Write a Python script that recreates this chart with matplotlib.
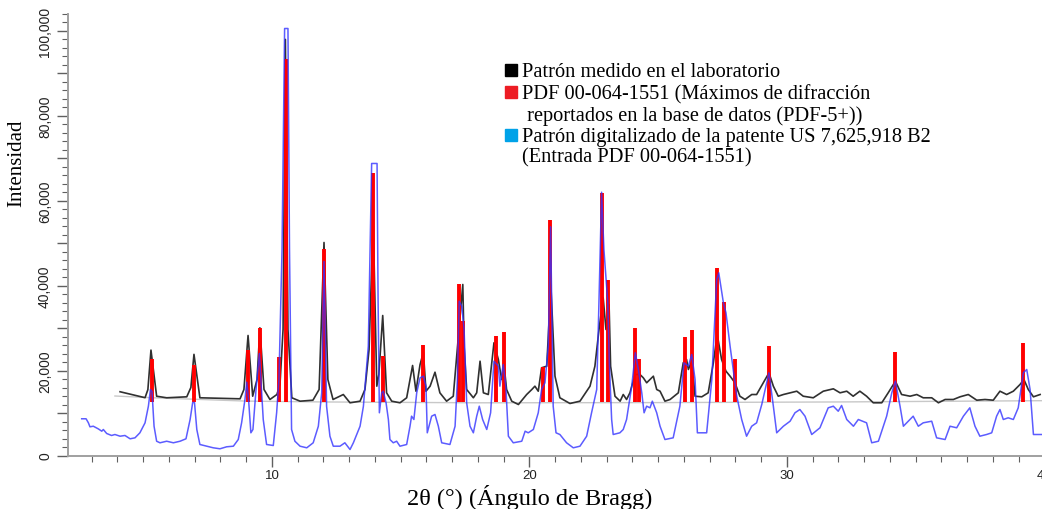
import matplotlib
matplotlib.use("Agg")
import matplotlib.pyplot as plt
from matplotlib.patches import Rectangle
from matplotlib.ticker import MultipleLocator, FuncFormatter

# Measured pattern (black)
black_x = [4.10, 5.07, 5.18, 5.30, 5.52, 5.91, 6.69, 6.85, 6.97, 7.20,
           8.76, 8.91, 9.07, 9.25, 9.42, 9.53, 9.69, 9.92, 10.19, 10.31,
           10.43, 10.52, 10.62, 10.77, 11.09, 11.59, 11.83, 12.02, 12.17, 12.37,
           12.77, 13.03, 13.42, 13.61, 13.77, 13.93, 14.07, 14.15, 14.30, 14.45,
           14.65, 14.97, 15.23, 15.46, 15.59, 15.75, 15.88, 15.98, 16.14, 16.33,
           16.52, 16.78, 17.04, 17.26, 17.41, 17.46, 17.56, 17.82, 17.95, 18.08,
           18.21, 18.40, 18.62, 18.79, 18.92, 19.01, 19.11, 19.31, 19.57, 19.89,
           20.09, 20.21, 20.34, 20.47, 20.67, 20.83, 20.99, 21.18, 21.57, 21.96,
           22.35, 22.54, 22.70, 22.86, 22.97, 23.09, 23.15, 23.32, 23.52, 23.64,
           23.77, 23.90, 24.10, 24.29, 24.42, 24.55, 24.68, 24.81, 24.94, 25.07,
           25.26, 25.46, 25.78, 25.97, 26.10, 26.17, 26.30, 26.43, 26.69, 26.94,
           27.14, 27.29, 27.46, 27.63, 27.79, 27.98, 28.17, 28.37, 28.63, 28.82,
           29.08, 29.30, 29.47, 29.66, 29.86, 30.12, 30.38, 30.63, 31.02, 31.41,
           31.80, 32.06, 32.32, 32.57, 32.83, 33.09, 33.35, 33.68, 33.93, 34.21,
           34.45, 34.78, 35.04, 35.29, 35.62, 35.88, 36.14, 36.46, 36.72, 37.04,
           37.37, 37.69, 38.01, 38.27, 38.53, 38.79, 39.05, 39.20, 39.37, 39.57,
           39.83]
black_y = [15000, 13600, 15500, 24800, 13950, 13580, 13810, 16000, 23800, 13580,
           13340, 15530, 28240, 13950, 17900, 30050, 15530, 13180, 14350, 16700,
           29650, 97900, 29650, 13580, 12780, 13010, 15530, 50120, 17880, 13180,
           14350, 12400, 12780, 15530, 24940, 55530, 16310, 19060, 32940, 14750,
           12780, 12400, 13580, 21180, 15130, 21410, 24310, 15130, 16310, 19600,
           14750, 12780, 13950, 29650, 40240, 25720, 15530, 13580, 14750, 22190,
           14750, 14350, 26520, 22590, 17880, 21410, 15530, 12780, 12000, 14350,
           15530, 16310, 15130, 20640, 21010, 40070, 18660, 13580, 12240, 12780,
           16310, 21010, 29650, 37180, 29650, 35530, 21010, 13950, 12780, 14350,
           13180, 14750, 19060, 19060, 18280, 17110, 17880, 18660, 15530, 15130,
           12780, 13180, 14750, 21810, 22590, 20240, 22190, 13950, 13810, 14750,
           21810, 28470, 22590, 19840, 18660, 17110, 13950, 13180, 14350, 14350,
           17110, 19460, 16310, 13950, 14350, 14750, 15130, 13950, 13580, 15130,
           15690, 14750, 15130, 13950, 15130, 13950, 12400, 12400, 14750, 17480,
           14350, 13950, 14350, 13580, 13580, 12400, 13180, 13180, 13810, 14350,
           13010, 13180, 13010, 15130, 14350, 15130, 16710, 17880, 15530, 13810,
           14350]

# Background of the measured pattern (light grey)
bg_x = [3.9, 5.3, 9.0, 12.0, 18.0, 25.0, 32.0, 40.0]
bg_y = [14000, 13600, 12800, 12600, 12400, 12450, 12600, 12900]

# Digitised patent pattern (blue)
blue_x = [2.61, 2.78, 2.87, 2.93, 3.06, 3.25, 3.39, 3.45, 3.58, 3.77,
          3.90, 4.10, 4.29, 4.49, 4.68, 4.87, 5.07, 5.20, 5.28, 5.34,
          5.42, 5.52, 5.65, 5.91, 6.17, 6.43, 6.66, 6.82, 6.92, 6.99,
          7.08, 7.20, 7.46, 7.72, 7.98, 8.24, 8.50, 8.69, 8.82, 8.95,
          9.02, 9.09, 9.18, 9.26, 9.38, 9.51, 9.57, 9.66, 9.79, 10.05,
          10.18, 10.27, 10.39, 10.49, 10.62, 10.68, 10.76, 10.89, 11.09, 11.35,
          11.60, 11.80, 11.93, 12.02, 12.12, 12.25, 12.38, 12.64, 12.83, 13.03,
          13.16, 13.42, 13.55, 13.74, 13.87, 14.08, 14.12, 14.17, 14.26, 14.32,
          14.43, 14.52, 14.58, 14.71, 14.84, 14.97, 15.23, 15.36, 15.42, 15.51,
          15.62, 15.75, 15.88, 15.98, 16.03, 16.20, 16.33, 16.46, 16.59, 16.91,
          17.11, 17.20, 17.27, 17.37, 17.46, 17.56, 17.69, 17.82, 17.95, 18.05,
          18.18, 18.34, 18.49, 18.62, 18.79, 18.85, 18.98, 19.08, 19.18, 19.37,
          19.70, 19.83, 19.95, 20.15, 20.34, 20.47, 20.60, 20.73, 20.82, 20.92,
          21.03, 21.18, 21.44, 21.70, 21.96, 22.22, 22.41, 22.61, 22.70, 22.80,
          22.89, 23.04, 23.10, 23.19, 23.25, 23.51, 23.64, 23.77, 23.97, 24.11,
          24.23, 24.36, 24.45, 24.55, 24.68, 24.77, 24.94, 25.07, 25.26, 25.58,
          25.84, 26.00, 26.17, 26.30, 26.43, 26.52, 26.88, 27.08, 27.27, 27.35,
          27.53, 27.63, 27.79, 28.05, 28.24, 28.43, 28.63, 28.82, 29.02, 29.30,
          29.47, 29.60, 29.86, 30.12, 30.31, 30.50, 30.70, 30.96, 31.28, 31.60,
          31.80, 31.99, 32.12, 32.32, 32.58, 32.77, 33.09, 33.29, 33.55, 33.87,
          34.07, 34.21, 34.39, 34.52, 34.71, 34.90, 35.10, 35.29, 35.62, 35.81,
          36.14, 36.33, 36.59, 36.85, 37.10, 37.30, 37.49, 37.75, 37.95, 38.14,
          38.27, 38.40, 38.59, 38.79, 38.98, 39.18, 39.31, 39.44, 39.57, 39.90]
blue_y = [8640, 8640, 7690, 6750, 6890, 6280, 5720, 6120, 5180, 4710,
          4940, 4540, 4710, 3930, 4160, 5340, 7690, 11600, 15530, 15060,
          6890, 3360, 2990, 3360, 2990, 3360, 3930, 8470, 12470, 12470,
          6120, 2590, 2190, 1810, 1580, 2050, 2190, 3760, 7690, 13180,
          17250, 13180, 5340, 6120, 15530, 24000, 17880, 8470, 2590, 2350,
          10050, 17880, 48470, 100470, 100470, 48470, 6120, 3360, 2190, 1810,
          2990, 6890, 14750, 45650, 11600, 4540, 2190, 2190, 2990, 1410,
          2990, 6890, 11600, 25720, 68710, 68710, 36710, 10050, 14750, 15130,
          12400, 8470, 3760, 2990, 3360, 2190, 2590, 6890, 9250, 8470,
          14750, 18280, 18660, 16310, 5340, 9250, 9650, 6890, 2990, 2590,
          6890, 17880, 36310, 35130, 29650, 12400, 6890, 5340, 9250, 11600,
          8470, 6120, 10050, 22190, 21010, 16310, 21410, 16310, 4540, 2990,
          3360, 5720, 5340, 6120, 10050, 15530, 17110, 25720, 53810, 11600,
          5340, 4940, 2990, 1810, 2190, 4540, 10050, 15530, 36710, 61950,
          48470, 36000, 21810, 8470, 4940, 5340, 6120, 8470, 16310, 24170,
          20240, 14750, 10050, 11600, 11220, 12780, 10050, 6890, 3760, 4160,
          11600, 21810, 21010, 23770, 17880, 5340, 5340, 17880, 41410, 42990,
          35930, 33580, 25720, 13950, 8470, 4540, 6890, 7690, 12000, 19460,
          11600, 5340, 6890, 8070, 10050, 10820, 9250, 4940, 6520, 11220,
          11600, 10420, 11770, 8470, 6890, 8470, 7690, 2990, 3360, 9250,
          14750, 17480, 11600, 6890, 8070, 9250, 6890, 7690, 8070, 4160,
          3760, 6890, 6520, 9250, 11220, 6890, 4540, 4940, 5340, 9250,
          10820, 8470, 8870, 8470, 11220, 19460, 20240, 15530, 4940, 4940]

# PDF 00-064-1551 reference peaks (red sticks)
red_x = [5.34, 6.97, 9.07, 9.53, 10.27, 10.54, 12.02, 13.92, 14.31, 15.85,
         17.25, 17.43, 18.69, 19.01, 20.54, 20.80, 22.80, 23.04, 24.11, 24.26,
         26.05, 26.31, 27.28, 27.57, 27.99, 29.29, 34.20, 39.18]
red_y = [22600, 21200, 24900, 30100, 23100, 93200, 48700, 66400, 23500, 25900,
         40300, 31600, 28200, 29000, 20900, 55400, 61800, 41200, 30100, 22800,
         27900, 29600, 44200, 36100, 22600, 25700, 24400, 26500]
red_base = 12600

legend_labels = ["Patrón medido en el laboratorio",
                 "PDF 00-064-1551 (Máximos de difracción\n reportados en la base de datos (PDF-5+))",
                 "Patrón digitalizado de la patente US 7,625,918 B2\n(Entrada PDF 00-064-1551)"]
legend_colors = ["#000000", "#ed1c24", "#00a2e8"]

serif = ["Liberation Serif", "DejaVu Serif"]
sans = ["Liberation Sans", "DejaVu Sans"]

fig = plt.figure(figsize=(10.42, 5.10), dpi=100)
ax = fig.add_axes([68 / 1042, 53.5 / 510, 976.5 / 1042, 442 / 510])

ax.plot(bg_x, bg_y, color="#c8c8c8", lw=1.0, zorder=1)
ax.plot(black_x, black_y, color="#303030", lw=1.2, zorder=2,
        solid_joinstyle="round")
ax.vlines(red_x, red_base, red_y, color="#ff0000", lw=2.8, zorder=3)
ax.plot(blue_x, blue_y, color="#3333ff", lw=1.1, alpha=0.8, zorder=4,
        solid_joinstyle="round")

ax.set_xlim(2.078, 40.0)
ax.set_ylim(0, 104000)

for s in ["top", "right"]:
    ax.spines[s].set_visible(False)
for s in ["left", "bottom"]:
    ax.spines[s].set_color("#a0a0a0")
    ax.spines[s].set_linewidth(1.4)

ax.xaxis.set_major_locator(MultipleLocator(10))
ax.xaxis.set_minor_locator(MultipleLocator(1))
ax.yaxis.set_major_locator(MultipleLocator(10000))
ax.yaxis.set_minor_locator(MultipleLocator(2000))
ax.yaxis.set_major_formatter(
    FuncFormatter(lambda v, p: f"{int(v):,}" if int(v) % 20000 == 0 else ""))
ax.tick_params(axis="both", which="major", length=8, width=1, color="#606060",
               labelsize=10, labelcolor="#222222")
ax.tick_params(axis="x", which="major", pad=2, labelsize=9.5)
ax.tick_params(axis="both", which="minor", length=4, width=0.8, color="#606060")
for lab in ax.get_yticklabels():
    lab.set_rotation(90)
    lab.set_va("center")
    lab.set_family(sans)
for lab in ax.get_xticklabels():
    lab.set_family(sans)

fig.text(17 / 1042, 1 - 163 / 510, "Intensidad", rotation=90, ha="center",
         va="center", fontsize=15, family=serif)
fig.text(530 / 1042, 1 - 498 / 510, "2θ (°) (Ángulo de Bragg)", ha="center",
         va="center", fontsize=17.5, family=serif)

# Legend drawn by hand to keep the hanging indent of the reference
square_rows = [70.7, 93.3, 136.0]
sq = 12
for row, col, lab in zip(square_rows, legend_colors, legend_labels):
    fig.add_artist(Rectangle((505 / 1042, 1 - (row + sq / 2) / 510),
                             sq / 1042, sq / 510, transform=fig.transFigure,
                             color=col))
    fig.text(522 / 1042, 1 - (row - 7.8) / 510, lab, ha="left", va="top",
             fontsize=14.7, family=serif, linespacing=1.08)

fig.savefig("out.png", dpi=100)
